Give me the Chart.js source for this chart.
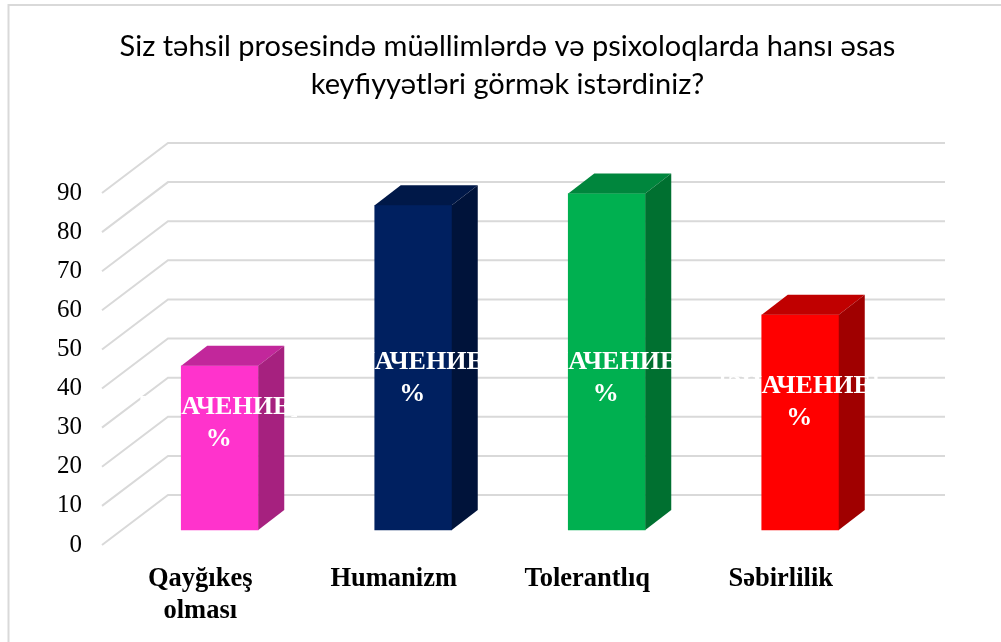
<!DOCTYPE html>
<html>
<head>
<meta charset="utf-8">
<title>Chart</title>
<script src="https://cdn.jsdelivr.net/npm/chart.js@4"></script>
<style>
  html, body { margin: 0; padding: 0; background: #fff; }
  canvas { display: block; }
</style>
</head>
<body>
<canvas id="chart" width="1001" height="642"></canvas>
<script>
// values
const categories = [['Qayğıkeş', 'olması'], 'Humanizm', 'Tolerantlıq', 'Səbirlilik'];
const values = [42, 83, 86, 55];
const yTicks = [0, 10, 20, 30, 40, 50, 60, 70, 80, 90];
const titleLines = ['Siz təhsil prosesində müəllimlərdə və psixoloqlarda hansı əsas', 'keyfiyyətləri görmək istərdiniz?'];
const barLabelLines = ['[ЗНАЧЕНИЕ]', '%'];

const frontColors = ['#FF33CC', '#002060', '#00B050', '#FF0000'];
const topColors = ['#C2279B', '#001848', '#00863D', '#C00000'];
const sideColors = ['#A6217F', '#00133A', '#007030', '#A00000'];

const GRID_COLOR = '#D9D9D9';
const FLOOR_DX = 66, FLOOR_DY = 50;   // floor depth of the fake 3d box
const BAR_DX = 26, BAR_DY = 20;       // depth of each bar
const BAR_SHIFT = 15;                 // bars stand this many px above the axis plane

// frame + slanted grid behind the bars
const backdrop = {
  id: 'backdrop',
  beforeDatasetsDraw(chart) {
    const { ctx, scales: { y } } = chart;
    ctx.save();
    ctx.strokeStyle = GRID_COLOR;
    ctx.lineWidth = 2;
    ctx.beginPath();
    ctx.moveTo(8.5, 642);
    ctx.lineTo(8.5, 5);
    ctx.lineTo(1001, 5);
    ctx.stroke();
    yTicks.forEach(v => {
      const py = y.getPixelForValue(v);
      ctx.beginPath();
      ctx.moveTo(102, py);
      ctx.lineTo(102 + FLOOR_DX, py - FLOOR_DY);
      ctx.lineTo(945, py - FLOOR_DY);
      ctx.stroke();
    });
    ctx.restore();
  }
};

// top and side faces of the bars, then the white labels
const barFaces = {
  id: 'barFaces',
  afterDatasetsDraw(chart, args, opts) {
    const { ctx } = chart;
    const bars = chart.getDatasetMeta(0).data;
    bars.forEach((bar, i) => {
      const l = bar.x - bar.width / 2, r = bar.x + bar.width / 2;
      ctx.fillStyle = topColors[i];
      ctx.beginPath();
      ctx.moveTo(l, bar.y);
      ctx.lineTo(l + BAR_DX, bar.y - BAR_DY);
      ctx.lineTo(r + BAR_DX, bar.y - BAR_DY);
      ctx.lineTo(r, bar.y);
      ctx.fill();
      ctx.fillStyle = sideColors[i];
      ctx.beginPath();
      ctx.moveTo(r, bar.y);
      ctx.lineTo(r + BAR_DX, bar.y - BAR_DY);
      ctx.lineTo(r + BAR_DX, bar.base - BAR_DY);
      ctx.lineTo(r, bar.base);
      ctx.fill();
    });
    ctx.fillStyle = '#fff';
    ctx.font = 'bold 26px "Liberation Serif"';
    ctx.textAlign = 'center';
    ctx.textBaseline = 'middle';
    bars.forEach((bar, i) => {
      const cy = (bar.y + bar.base) / 2 + opts.labelShift[i];
      ctx.fillText(barLabelLines[0], bar.x - 1, cy - 16);
      ctx.fillText(barLabelLines[1], bar.x - 1, cy + 16);
    });
  }
};

new Chart(document.getElementById('chart'), {
  type: 'bar',
  data: {
    labels: categories,
    datasets: [{
      data: values,
      yAxisID: 'yBar',
      backgroundColor: frontColors,
      barThickness: 77,
      borderWidth: 0
    }]
  },
  plugins: [backdrop, barFaces],
  options: {
    responsive: false,
    animation: false,
    layout: { padding: { left: 14, right: 0, top: 28, bottom: 0 } },
    plugins: {
      legend: { display: false },
      tooltip: { enabled: false },
      title: {
        display: true,
        text: titleLines,
        color: '#000',
        font: { family: 'Lato', size: 29, weight: 'normal', lineHeight: 1.31 },
        padding: { top: 0, bottom: 89 }
      },
      barFaces: { labelShift: [-25, 11, 16, -20] }
    },
    scales: {
      x: {
        afterFit(scale) { scale.height = 97; },
        grid: { display: false, drawTicks: false },
        border: { display: false },
        ticks: {
          padding: 18,
          labelOffset: -19.5,
          maxRotation: 0,
          color: '#000',
          font: { family: 'Liberation Serif', size: 26.5, weight: 'bold', lineHeight: 1.21 }
        }
      },
      y: {
        min: 0,
        max: 90,
        afterFit(scale) { scale.width = 109; },
        afterBuildTicks(scale) { scale.ticks = yTicks.map(v => ({ value: v })); },
        grid: { display: false, drawTicks: false },
        border: { display: false },
        ticks: {
          padding: 41,
          color: '#000',
          font: { family: 'Liberation Serif', size: 25 }
        }
      },
      // same plot height, shifted so the bars stand on the floor instead of the front edge;
      // sits on the right with no ticks to keep the plot clear of the grid's back wall
      yBar: {
        position: 'right',
        min: -BAR_SHIFT / 3.91,
        max: 90 - BAR_SHIFT / 3.91,
        afterFit(scale) { scale.width = 104; },
        grid: { display: false, drawTicks: false },
        border: { display: false },
        ticks: { display: false }
      }
    }
  }
});
</script>
</body>
</html>
